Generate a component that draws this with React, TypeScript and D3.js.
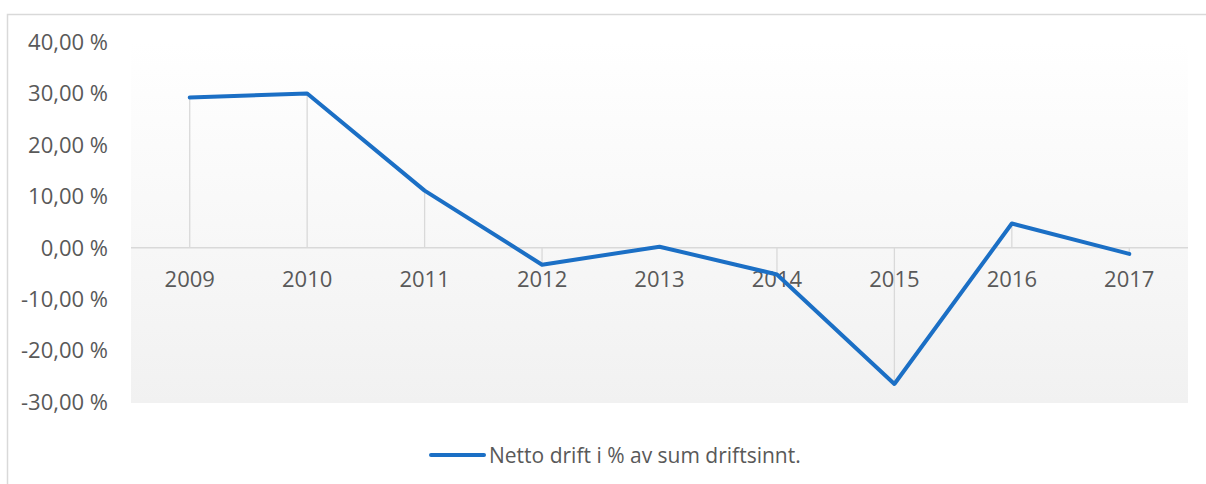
import React, { useRef, useEffect } from "react";
import * as d3 from "d3";

const years = ["2009", "2010", "2011", "2012", "2013", "2014", "2015", "2016", "2017"];
const nettoDrift = [29.2, 30.0, 11.1, -3.3, 0.2, -5.2, -26.5, 4.7, -1.2];
const yTicks = [40, 30, 20, 10, 0, -10, -20, -30];
const seriesName = "Netto drift i % av sum driftsinnt.";

export default function App() {
  const ref = useRef<SVGSVGElement>(null);

  useEffect(() => {
    const width = 1206;
    const height = 484;
    const plot = { left: 131, right: 1188, top: 42, bottom: 403 };
    const font = "'Open Sans', 'Noto Sans', sans-serif";
    const textColor = "#595959";

    const svg = d3.select(ref.current);
    svg.selectAll("*").remove();
    svg.attr("width", width).attr("height", height);

    // outer chart border, only top and left are inside the crop
    svg.append("path")
      .attr("d", `M7.5,${height}V14.5H${width}`)
      .attr("fill", "none").attr("stroke", "#d9d9d9").attr("stroke-width", 1.5);

    const grad = svg.append("defs").append("linearGradient")
      .attr("id", "plotBg").attr("x1", 0).attr("y1", 0).attr("x2", 0).attr("y2", 1);
    grad.append("stop").attr("offset", "0%").attr("stop-color", "#ffffff");
    grad.append("stop").attr("offset", "100%").attr("stop-color", "#f1f1f1");

    svg.append("rect")
      .attr("x", plot.left).attr("y", plot.top)
      .attr("width", plot.right - plot.left).attr("height", plot.bottom - plot.top)
      .attr("fill", "url(#plotBg)");

    const x = d3.scaleBand().domain(years).range([plot.left, plot.right]);
    const y = d3.scaleLinear().domain([-30, 40]).range([plot.bottom - 1, plot.top]);
    const cx = (d: string) => (x(d) as number) + x.bandwidth() / 2;

    // y tick labels, Norwegian style "10,00 %"
    svg.append("g")
      .selectAll("text")
      .data(yTicks)
      .join("text")
      .attr("x", 108)
      .attr("y", d => y(d))
      .attr("dy", "0.36em")
      .attr("text-anchor", "end")
      .attr("font-family", font)
      .attr("font-size", "22px")
      .attr("fill", textColor)
      .text(d => (d < 0 ? "-" : "") + Math.abs(d).toFixed(2).replace(".", ",") + " %");

    // drop lines
    svg.append("g")
      .selectAll("line")
      .data(years)
      .join("line")
      .attr("x1", d => cx(d)).attr("x2", d => cx(d))
      .attr("y1", (d, i) => y(nettoDrift[i]))
      .attr("y2", y(0))
      .attr("stroke", "#d9d9d9").attr("stroke-width", 1.3);

    // category axis at zero
    svg.append("line")
      .attr("x1", plot.left).attr("x2", plot.right)
      .attr("y1", y(0)).attr("y2", y(0))
      .attr("stroke", "#d9d9d9").attr("stroke-width", 1.5);

    svg.append("g")
      .selectAll("text")
      .data(years)
      .join("text")
      .attr("x", d => cx(d))
      .attr("y", y(0) + 39)
      .attr("text-anchor", "middle")
      .attr("font-family", font)
      .attr("font-size", "22px")
      .attr("fill", textColor)
      .text(d => d);

    const line = d3.line<number>()
      .x((d, i) => cx(years[i]))
      .y(d => y(d));

    svg.append("path")
      .datum(nettoDrift)
      .attr("d", line)
      .attr("fill", "none")
      .attr("stroke", "#1b6fc5")
      .attr("stroke-width", 4)
      .attr("stroke-linecap", "round")
      .attr("stroke-linejoin", "round");

    // legend
    const lg = svg.append("g").attr("transform", "translate(431,455)");
    lg.append("line")
      .attr("x1", 0).attr("x2", 53).attr("y1", 0).attr("y2", 0)
      .attr("stroke", "#1b6fc5").attr("stroke-width", 4).attr("stroke-linecap", "round");
    lg.append("text")
      .attr("x", 58).attr("y", 0).attr("dy", "0.36em")
      .attr("font-family", font)
      .attr("font-size", "21px")
      .attr("fill", textColor)
      .text(seriesName);
  }, []);

  return (
    <div style={{ position: "absolute", left: 0, top: 0 }}>
      <svg ref={ref} style={{ display: "block" }}></svg>
    </div>
  );
}
